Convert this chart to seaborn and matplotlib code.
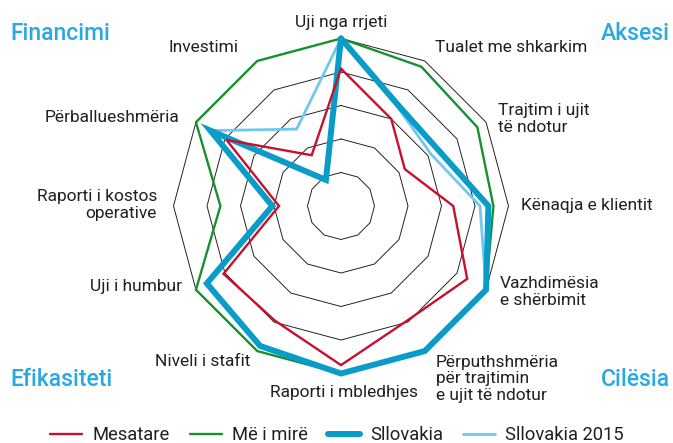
import numpy as np
import pandas as pd
import matplotlib
matplotlib.use("Agg")
import matplotlib.pyplot as plt
import seaborn as sns

sns.set_style("white")
plt.rcParams["font.family"] = ["Roboto", "DejaVu Sans"]

# @@ data (share of the best value)
categories = ["Uji nga rrjeti", "Tualet me shkarkim", "Trajtim i ujit\ntë ndotur",
              "Kënaqja e klientit", "Vazhdimësia\ne shërbimit",
              "Përputhshmëria\npër trajtimin\ne ujit të ndotur", "Raporti i mbledhjes",
              "Niveli i stafit", "Uji i humbur", "Raporti i kostos\noperative",
              "Përballueshmëria", "Investimi"]
mesatare = [0.82, 0.60, 0.44, 0.67, 0.87, 0.79, 0.95, 0.79, 0.81, 0.37, 0.79, 0.35]
me_i_mire = [1.0, 0.96, 0.94, 0.91, 1.0, 1.0, 1.0, 1.0, 1.0, 0.72, 1.0, 1.0]
sllovakia = [1.0, 0.69, 0.67, 0.88, 1.0, 1.0, 1.0, 0.965, 0.925, 0.41, 0.90, 0.18]
sllovakia_2015 = [1.0, 0.68, 0.62, 0.83, 1.0, 1.0, 1.0, 0.965, 0.925, 0.41, 0.90, 0.53]
series_names = ["Mesatare", "Më i mirë", "Sllovakia", "Sllovakia 2015"]
rings = [0.2, 0.4, 0.6, 0.8, 1.0]
groups = ["Financimi", "Aksesi", "Efikasiteti", "Cilësia"]
# @@

W, H = 673, 443
cx, cy, R = 341, 206, 167.5

fig = plt.figure(figsize=(W / 100, H / 100), dpi=100)
ax = fig.add_axes([(cx - R) / W, (H - cy - R) / H, 2 * R / W, 2 * R / H], projection="polar")
ax.set_theta_offset(np.pi / 2)
ax.set_theta_direction(-1)

n = len(categories)
theta = np.linspace(0, 2 * np.pi, n, endpoint=False)
theta_closed = np.append(theta, 2 * np.pi)

# polygon grid
for r in rings:
    ax.plot(theta_closed, [r] * (n + 1), color="#222222", lw=0.7, zorder=1, clip_on=False)

styles = {
    "Më i mirë": dict(values=me_i_mire, color="#17902f", lw=1.7, z=2),
    "Mesatare": dict(values=mesatare, color="#c8102e", lw=1.7, z=5),
    "Sllovakia 2015": dict(values=sllovakia_2015, color="#72c7ef", lw=2.0, z=3),
    "Sllovakia": dict(values=sllovakia, color="#0a9cc8", lw=4.3, z=4),
}

handles = {}
for name in ["Më i mirë", "Sllovakia 2015", "Sllovakia", "Mesatare"]:
    s = styles[name]
    vals = list(s["values"]) + [s["values"][0]]
    df = pd.DataFrame({"theta": theta_closed, "value": vals})
    sns.lineplot(data=df, x="theta", y="value", sort=False, estimator=None, ax=ax,
                 color=s["color"], linewidth=s["lw"], zorder=s["z"],
                 solid_joinstyle="miter", label=name)
    ln = ax.lines[-1]
    ln.set_clip_on(False)
    handles[name] = ln

ax.set_ylim(0, 1)
ax.grid(False)
ax.spines["polar"].set_visible(False)
ax.set_xticks([])
ax.set_yticks([])
ax.set_xlabel("")
ax.set_ylabel("")
ax.patch.set_alpha(0)

# category labels
txt = "#231f20"
label_pos = [(341, 22, "center"), (435, 47, "left"), (498, 119, "left"), (521, 206, "left"),
             (500, 292, "left"), (436, 379, "left"), (344, 392, "center"), (250, 362, "right"),
             (182, 287, "right"), (157, 205, "right"), (179, 118, "right"), (238, 47, "right")]
for lab, (x, y, ha) in zip(categories, label_pos):
    fig.text(x / W, 1 - y / H, lab, ha=ha, va="center", multialignment=ha,
             fontsize=12.5, fontweight="normal", color=txt, linespacing=1.1)

group_pos = [(10, 33, "left"), (670, 33, "right"), (10, 380, "left"), (670, 380, "right")]
for g, (x, y, ha) in zip(groups, group_pos):
    fig.text(x / W, 1 - y / H, g, ha=ha, va="center", fontsize=16.5,
             fontweight="medium", color="#2aa8e2")

leg = ax.legend([handles[k] for k in series_names], series_names,
                loc="center", bbox_to_anchor=(337 / W, 1 - 435 / H),
                bbox_transform=fig.transFigure, ncol=4, frameon=False,
                fontsize=13.2, handlelength=1.75, handletextpad=0.55, columnspacing=1.1)
for t in leg.get_texts():
    t.set_color(txt)

fig.savefig("out.png", dpi=100)
